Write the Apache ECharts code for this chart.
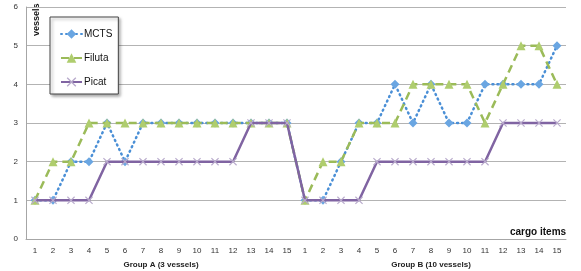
<!DOCTYPE html>
<html><head><meta charset="utf-8">
<script src="https://cdn.jsdelivr.net/npm/echarts@6/dist/echarts.min.js"></script>
<style>html,body{margin:0;padding:0;background:#fff}#c{width:581px;height:271px}</style>
</head><body><div id="c"></div>
<script>
const categories = ['1','2','3','4','5','6','7','8','9','10','11','12','13','14','15',
                    '1','2','3','4','5','6','7','8','9','10','11','12','13','14','15'];
const groups = ['Group A (3 vessels)', 'Group B (10 vessels)'];
const mcts   = [1,1,2,2,3,2,3,3,3,3,3,3,3,3,3,  1,1,2,3,3,4,3,4,3,3,4,4,4,4,5];
const filuta = [1,2,2,3,3,3,3,3,3,3,3,3,3,3,3,  1,2,2,3,3,3,4,4,4,4,3,4,5,5,4];
const picat  = [1,1,1,1,2,2,2,2,2,2,2,2,3,3,3,  1,1,1,1,2,2,2,2,2,2,2,3,3,3,3];
const yTicks = [0,1,2,3,4,5,6];

const crossPath = 'path://M1,0L5,4L9,0L10,1L6,5L10,9L9,10L5,6L1,10L0,9L4,5L0,1Z';
const font = 'Liberation Sans';
const chart = echarts.init(document.getElementById('c'), null, {renderer:'canvas'});
chart.setOption({
  animation:false,
  textStyle:{fontFamily:font},
  grid:{left:26,right:15,top:7,bottom:32,containLabel:false},
  xAxis:[{
    type:'category', data:categories, boundaryGap:true,
    axisLine:{lineStyle:{color:'#a6a6a6',width:1}},
    axisTick:{show:false},
    axisLabel:{color:'#333',fontSize:8,margin:8,interval:0,fontFamily:font}
  },{
    type:'category', data:groups, position:'bottom', offset:14,
    axisLine:{show:false}, axisTick:{show:false}, splitLine:{show:false},
    axisLabel:{color:'#222',fontSize:8,fontWeight:'bold',interval:0,fontFamily:font}
  }],
  yAxis:{
    type:'value', min:0, max:6, interval:1,
    axisLine:{show:true,lineStyle:{color:'#a6a6a6',width:1}},
    axisTick:{show:false},
    splitLine:{lineStyle:{color:'#b3b3b3',width:1}},
    axisLabel:{color:'#333',fontSize:8,margin:8,fontFamily:font,
      formatter:v=>yTicks.includes(v)?String(v):''}
  },
  legend:{
    orient:'vertical', left:50, top:17,
    data:['MCTS','Filuta','Picat'],
    backgroundColor:'#fff', borderColor:'#444', borderWidth:1,
    shadowColor:'rgba(0,0,0,0.35)', shadowBlur:3, shadowOffsetX:2, shadowOffsetY:2,
    padding:[12,6,7,10], itemGap:14, itemWidth:21, itemHeight:12,
    textStyle:{fontSize:10,color:'#111',fontFamily:font,padding:[0,0,0,-3]}
  },
  graphic:[
    {type:'text', left:510, top:227, style:{text:'cargo items',font:'bold 10px "Liberation Sans"',fill:'#111'}},
    {type:'text', x:32, y:36, rotation:Math.PI/2, style:{text:'vessels',font:'bold 9px "Liberation Sans"',fill:'#111'}}
  ],
  series:[
    {name:'MCTS', type:'line', data:mcts, symbol:'diamond', symbolSize:9,
     lineStyle:{color:'#4a8fd6',width:2.5,type:[1,4],cap:'round'},
     itemStyle:{color:'#6aa6e2'}, z:2},
    {name:'Filuta', type:'line', data:filuta, symbol:'triangle', symbolSize:9,
     lineStyle:{color:'#9bbb59',width:2.5,type:[8,5]},
     itemStyle:{color:'#afcd6e'}, z:3},
    {name:'Picat', type:'line', data:picat, symbol:crossPath, symbolSize:8,
     lineStyle:{color:'#8064a2',width:2.5},
     itemStyle:{color:'#b9abcc'}, z:4}
  ]
});
</script></body></html>
